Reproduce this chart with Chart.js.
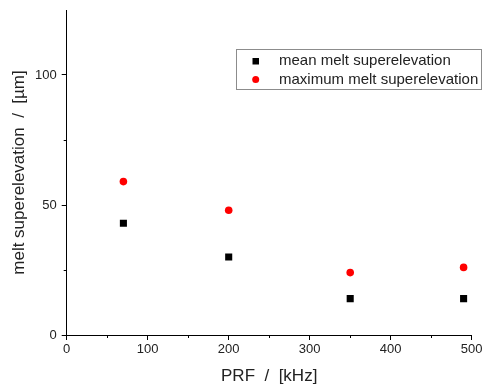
<!DOCTYPE html>
<html>
<head>
<meta charset="utf-8">
<script src="https://cdn.jsdelivr.net/npm/chart.js@4"></script>
<style>
  html, body { margin: 0; padding: 0; background: #fff; }
  #wrap { width: 484px; height: 386px; }
</style>
</head>
<body>
<div id="wrap"><canvas id="chartMelt" width="484" height="386"></canvas></div>
<script>
// ============ DATA ============
var prfKHz      = [70, 200, 350, 490];
var meanMelt    = [43, 30, 14, 14];
var maxMelt     = [59, 48, 24, 26];
var seriesNames = ['mean melt superelevation', 'maximum melt superelevation'];
var xTicks      = [0, 100, 200, 300, 400, 500];
var yTicks      = [0, 50, 100];
var xTitle      = 'PRF  /  [kHz]';
var yTitle      = 'melt superelevation  /  [µm]';

var FONT = "'Liberation Sans', Arial, sans-serif";

function toPoints(xs, ys) {
  return xs.map(function(x, i) { return { x: x, y: ys[i] }; });
}

// minor ticks, axis titles and the boxed legend
var extrasPlugin = {
  id: 'extras',
  afterDraw: function(chart) {
    var ctx = chart.ctx;
    var xs = chart.scales.x, ys = chart.scales.y;
    ctx.save();

    // minor ticks (outward, short)
    ctx.strokeStyle = '#000';
    ctx.lineWidth = 1;
    ctx.beginPath();
    for (var v = 50; v < 500; v += 100) {
      var px = Math.round(xs.getPixelForValue(v)) + 0.5;
      ctx.moveTo(px, ys.bottom);
      ctx.lineTo(px, ys.bottom + 3);
    }
    for (var w = 25; w < 125; w += 50) {
      var py = Math.round(ys.getPixelForValue(w)) + 0.5;
      ctx.moveTo(xs.left, py);
      ctx.lineTo(xs.left - 3, py);
    }
    ctx.stroke();

    // axis titles
    ctx.fillStyle = '#222';
    ctx.font = '17px ' + FONT;
    ctx.textAlign = 'center';
    ctx.textBaseline = 'alphabetic';
    ctx.fillText(xTitle, (xs.left + xs.right) / 2, 381);
    ctx.save();
    ctx.translate(24, (ys.top + ys.bottom) / 2);
    ctx.rotate(-Math.PI / 2);
    ctx.fillText(yTitle, 0, 0);
    ctx.restore();

    // legend box
    var bx = 236.5, by = 49.5, bw = 245, bh = 40;
    ctx.strokeStyle = '#8c8c8c';
    ctx.strokeRect(bx, by, bw, bh);
    ctx.font = '15px ' + FONT;
    ctx.textAlign = 'left';
    ctx.textBaseline = 'middle';
    chart.data.datasets.forEach(function(ds, i) {
      var cy = 61 + i * 18.5;
      ctx.fillStyle = ds.backgroundColor;
      if (ds.pointStyle === 'rect') {
        ctx.fillRect(252.5, cy - 3, 6.5, 6.5);
      } else {
        ctx.beginPath();
        ctx.arc(255.7, cy, 3.5, 0, Math.PI * 2);
        ctx.fill();
      }
      ctx.fillStyle = '#222';
      ctx.fillText(ds.label, 279, cy);
    });
    ctx.restore();
  }
};

new Chart(document.getElementById('chartMelt'), {
  type: 'scatter',
  data: {
    datasets: [{
      label: seriesNames[0],
      data: toPoints(prfKHz, meanMelt),
      pointStyle: 'rect',
      pointRadius: 5,
      backgroundColor: '#000',
      borderColor: '#000',
      borderWidth: 0
    }, {
      label: seriesNames[1],
      data: toPoints(prfKHz, maxMelt),
      pointStyle: 'circle',
      pointRadius: 3.8,
      backgroundColor: '#ff0000',
      borderColor: '#ff0000',
      borderWidth: 0
    }]
  },
  options: {
    responsive: false,
    animation: false,
    layout: { padding: { top: 10, right: 12.3, left: 0, bottom: 0 } },
    plugins: { legend: { display: false }, tooltip: { enabled: false } },
    scales: {
      x: {
        type: 'linear',
        min: 0, max: 500,
        afterFit: function(s) { s.height = 51; s.paddingLeft = 0; s.paddingRight = 0; },
        afterBuildTicks: function(s) { s.ticks = xTicks.map(function(v) { return { value: v }; }); },
        grid: { drawOnChartArea: false, drawTicks: true, tickLength: 5, color: '#000' },
        border: { display: true, color: '#000', width: 1 },
        ticks: { color: '#222', font: { family: FONT, size: 13 }, padding: 2, maxRotation: 0 }
      },
      y: {
        type: 'linear',
        min: 0, max: 125,
        afterFit: function(s) { s.width = 66.7; s.paddingTop = 0; s.paddingBottom = 0; },
        afterBuildTicks: function(s) { s.ticks = yTicks.map(function(v) { return { value: v }; }); },
        grid: { drawOnChartArea: false, drawTicks: true, tickLength: 5, color: '#000' },
        border: { display: true, color: '#000', width: 1 },
        ticks: { color: '#222', font: { family: FONT, size: 13 }, padding: 5 }
      }
    }
  },
  plugins: [extrasPlugin]
});
</script>
</body>
</html>
